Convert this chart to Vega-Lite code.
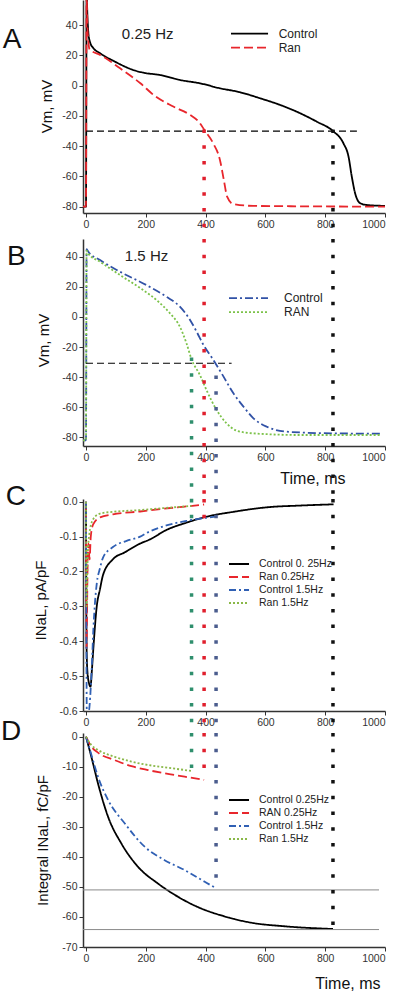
{
  "$schema": "https://vega.github.io/schema/vega-lite/v6.json",
  "background": "white",
  "padding": {"left": 1, "top": 0, "right": 0, "bottom": 0},
  "spacing": 0,
  "bounds": "flush",
  "resolve": {"scale": {"color": "independent", "strokeDash": "independent", "stroke": "independent", "x": "independent", "y": "independent"}},
  "config": {
    "font": "Liberation Sans",
    "view": {"stroke": null},
    "axis": {"grid": false, "domainColor": "#333333", "domainWidth": 1.5, "tickColor": "#333333", "tickSize": 4, "labelFontSize": 10.5, "labelColor": "#333333", "labelPadding": 2, "labelOverlap": false, "titleFontWeight": "normal", "titleFontSize": 15, "titleColor": "#111111", "labelFont": "Liberation Sans", "titleFont": "Liberation Sans"},
    "legend": {"labelFont": "Liberation Sans", "labelColor": "#222222", "padding": 0, "rowPadding": 0, "symbolStrokeWidth": 1.8}
  },
  "vconcat": [
    {
      "width": 302,
      "height": 213,
      "layer": [
        {
          "data": {"values": [
            {"s": "Control", "t": -10, "v": -80}, {"s": "Control", "t": 0, "v": -80}, {"s": "Control", "t": 2, "v": 60}, {"s": "Control", "t": 5, "v": 45}, {"s": "Control", "t": 8, "v": 34.7}, {"s": "Control", "t": 14, "v": 28.5}, {"s": "Control", "t": 25, "v": 24.8}, {"s": "Control", "t": 47, "v": 21.5}, {"s": "Control", "t": 97, "v": 15.9}, {"s": "Control", "t": 158, "v": 10.4}, {"s": "Control", "t": 192, "v": 8.6}, {"s": "Control", "t": 247, "v": 7.1}, {"s": "Control", "t": 314, "v": 3.8}, {"s": "Control", "t": 381, "v": 1.6}, {"s": "Control", "t": 448, "v": -1.7}, {"s": "Control", "t": 515, "v": -4.3}, {"s": "Control", "t": 582, "v": -8.3}, {"s": "Control", "t": 649, "v": -12.7}, {"s": "Control", "t": 716, "v": -18.2}, {"s": "Control", "t": 772, "v": -23.8}, {"s": "Control", "t": 826, "v": -30}, {"s": "Control", "t": 861, "v": -38.1}, {"s": "Control", "t": 878, "v": -46.9}, {"s": "Control", "t": 889, "v": -60.2}, {"s": "Control", "t": 900, "v": -71.1}, {"s": "Control", "t": 917, "v": -77.7}, {"s": "Control", "t": 939, "v": -78.9}, {"s": "Control", "t": 1000, "v": -79.5},
            {"s": "Ran", "t": -10, "v": -80}, {"s": "Ran", "t": 0, "v": -80}, {"s": "Ran", "t": 2, "v": 60}, {"s": "Ran", "t": 5, "v": 38}, {"s": "Ran", "t": 8, "v": 29}, {"s": "Ran", "t": 12, "v": 24}, {"s": "Ran", "t": 17, "v": 23.2}, {"s": "Ran", "t": 47, "v": 20.4}, {"s": "Ran", "t": 114, "v": 11.5}, {"s": "Ran", "t": 182, "v": 1.6}, {"s": "Ran", "t": 226, "v": -6.1}, {"s": "Ran", "t": 292, "v": -13.8}, {"s": "Ran", "t": 348, "v": -19.3}, {"s": "Ran", "t": 381, "v": -24.8}, {"s": "Ran", "t": 395, "v": -29}, {"s": "Ran", "t": 425, "v": -38}, {"s": "Ran", "t": 448, "v": -49.1}, {"s": "Ran", "t": 461, "v": -62.3}, {"s": "Ran", "t": 472, "v": -73.4}, {"s": "Ran", "t": 492, "v": -78.2}, {"s": "Ran", "t": 559, "v": -79.5}, {"s": "Ran", "t": 1000, "v": -80}
          ]},
          "mark": {"type": "line", "clip": true, "strokeWidth": 1.8, "interpolate": "monotone"},
          "encoding": {
            "x": {"field": "t", "type": "quantitative", "scale": {"domain": [-10, 1000], "nice": false, "zero": false}, "axis": {"values": [0, 200, 400, 600, 800, 1000], "tickCount": 20, "format": "d", "title": null, "labelOverlap": false}},
            "y": {"field": "v", "type": "quantitative", "scale": {"domain": [-84.2, 56.7], "nice": false, "zero": false}, "axis": {"values": [-80, -60, -40, -20, 0, 20, 40], "tickCount": 20, "labelOverlap": false, "title": "Vm, mV", "titleX": -37, "titleY": 106, "titleBaseline": "middle", "labelExpr": "replace(datum.label, '−', '-')"}},
            "color": {"field": "s", "type": "nominal", "scale": {"domain": ["Control", "Ran"], "range": ["#000000", "#e8262c"]}, "legend": {"title": null, "orient": "none", "legendX": 147, "legendY": 26.2, "symbolType": "M-1,0H4.7", "symbolSize": 169, "labelFontSize": 12, "labelOffset": 33.7}},
            "strokeDash": {"field": "s", "type": "nominal", "scale": {"domain": ["Control", "Ran"], "range": [[1, 0], [9, 4]]}, "legend": {"title": null}}
          }
        },
        {
          "data": {"values": [{"t": 0, "t2": 906, "v": -30}]},
          "mark": {"type": "rule", "color": "#000000", "strokeWidth": 1.2, "strokeDash": [7, 4]},
          "encoding": {"x": {"field": "t", "type": "quantitative"}, "x2": {"field": "t2"}, "y": {"field": "v", "type": "quantitative"}}
        },
        {
          "data": {"values": [{"label": "0.25 Hz"}]},
          "mark": {"type": "text", "align": "left", "baseline": "middle", "fontSize": 15, "color": "#222222"},
          "encoding": {"x": {"datum": 120, "type": "quantitative"}, "y": {"datum": 34.2, "type": "quantitative"}, "text": {"field": "label"}}
        },
        {
          "data": {"values": [{"label": "A"}]},
          "mark": {"type": "text", "align": "left", "baseline": "middle", "fontSize": 28, "color": "#111111"},
          "encoding": {"x": {"datum": -278, "type": "quantitative"}, "y": {"datum": 30.3, "type": "quantitative"}, "text": {"field": "label"}}
        },
        {
          "data": {"values": [
            {"run": "Control 0.25Hz", "t": 826, "v": -29, "v2": -101.4},
            {"run": "Ran 0.25Hz", "t": 395, "v": -29, "v2": -101.4}
          ]},
          "mark": {"type": "rule", "strokeWidth": 3.5, "strokeDash": [3.5, 12.2]},
          "encoding": {"x": {"field": "t", "type": "quantitative"}, "y": {"field": "v", "type": "quantitative"}, "y2": {"field": "v2"}, "stroke": {"field": "run", "type": "nominal", "scale": {"domain": ["Control 0.25Hz", "Ran 0.25Hz", "Control 1.5Hz", "Ran 1.5Hz"], "range": ["#111111", "#e01f2d", "#4b5d8e", "#2f8f6d"]}, "legend": null}}
        }
      ]
    },
    {"width": 302, "height": 26, "data": {"values": [{}]}, "mark": {"type": "text", "opacity": 0}, "encoding": {"text": {"value": ""}}},
    {
      "width": 302,
      "height": 207,
      "layer": [
        {
          "data": {"values": [
            {"s": "Control", "t": -10, "v": -82}, {"s": "Control", "t": 0, "v": -82}, {"s": "Control", "t": 2, "v": 45}, {"s": "Control", "t": 5, "v": 44.2}, {"s": "Control", "t": 8, "v": 43.3}, {"s": "Control", "t": 47, "v": 37.8}, {"s": "Control", "t": 114, "v": 30}, {"s": "Control", "t": 202, "v": 21.2}, {"s": "Control", "t": 269, "v": 13.4}, {"s": "Control", "t": 314, "v": 6.8}, {"s": "Control", "t": 348, "v": -2}, {"s": "Control", "t": 370, "v": -9.8}, {"s": "Control", "t": 393, "v": -18.7}, {"s": "Control", "t": 426, "v": -28.6}, {"s": "Control", "t": 460, "v": -39.7}, {"s": "Control", "t": 493, "v": -50.8}, {"s": "Control", "t": 527, "v": -59.7}, {"s": "Control", "t": 560, "v": -67.4}, {"s": "Control", "t": 605, "v": -73}, {"s": "Control", "t": 672, "v": -76.3}, {"s": "Control", "t": 828, "v": -77.4}, {"s": "Control", "t": 983, "v": -77.6},
            {"s": "RAN", "t": -10, "v": -82}, {"s": "RAN", "t": 0, "v": -82}, {"s": "RAN", "t": 2, "v": 44}, {"s": "RAN", "t": 5, "v": 43}, {"s": "RAN", "t": 8, "v": 42}, {"s": "RAN", "t": 47, "v": 36.7}, {"s": "RAN", "t": 114, "v": 27.8}, {"s": "RAN", "t": 191, "v": 17.9}, {"s": "RAN", "t": 236, "v": 11.2}, {"s": "RAN", "t": 281, "v": 2.4}, {"s": "RAN", "t": 314, "v": -6.5}, {"s": "RAN", "t": 336, "v": -17.5}, {"s": "RAN", "t": 353, "v": -28.2}, {"s": "RAN", "t": 381, "v": -38.6}, {"s": "RAN", "t": 403, "v": -48.6}, {"s": "RAN", "t": 437, "v": -61.9}, {"s": "RAN", "t": 470, "v": -70.7}, {"s": "RAN", "t": 504, "v": -75.6}, {"s": "RAN", "t": 560, "v": -77.4}, {"s": "RAN", "t": 716, "v": -78.5}, {"s": "RAN", "t": 983, "v": -78.5}
          ]},
          "mark": {"type": "line", "clip": true, "strokeWidth": 1.8, "interpolate": "monotone"},
          "encoding": {
            "x": {"field": "t", "type": "quantitative", "scale": {"domain": [-10, 1000], "nice": false, "zero": false}, "axis": {"values": [0, 200, 400, 600, 800, 1000], "tickCount": 20, "format": "d", "labelOverlap": false, "title": "Time, ms", "titleFontSize": 16, "titleX": 262, "titleY": 37, "titleAlign": "right", "titleBaseline": "alphabetic"}},
            "y": {"field": "v", "type": "quantitative", "scale": {"domain": [-85.8, 51.8], "nice": false, "zero": false}, "axis": {"values": [-80, -60, -40, -20, 0, 20, 40], "tickCount": 20, "labelOverlap": false, "title": "Vm, mV", "titleX": -40, "titleY": 101, "titleBaseline": "middle", "labelExpr": "replace(datum.label, '−', '-')"}},
            "color": {"field": "s", "type": "nominal", "scale": {"domain": ["Control", "RAN"], "range": ["#3152a6", "#7cc24a"]}, "legend": {"title": null, "orient": "none", "legendX": 145, "legendY": 51.6, "symbolType": "M-1,0H5", "symbolSize": 169, "labelFontSize": 12, "labelOffset": 41}},
            "strokeDash": {"field": "s", "type": "nominal", "scale": {"domain": ["Control", "RAN"], "range": [[8, 3, 2, 3], [2, 2]]}, "legend": {"title": null}}
          }
        },
        {
          "data": {"values": [{"t": 0, "t2": 487, "v": -30.8}]},
          "mark": {"type": "rule", "color": "#000000", "strokeWidth": 1.2, "strokeDash": [7, 4]},
          "encoding": {"x": {"field": "t", "type": "quantitative"}, "x2": {"field": "t2"}, "y": {"field": "v", "type": "quantitative"}}
        },
        {
          "data": {"values": [{"label": "1.5 Hz"}]},
          "mark": {"type": "text", "align": "left", "baseline": "middle", "fontSize": 15, "color": "#222222"},
          "encoding": {"x": {"datum": 130, "type": "quantitative"}, "y": {"datum": 40.5, "type": "quantitative"}, "text": {"field": "label"}}
        },
        {
          "data": {"values": [{"label": "B"}]},
          "mark": {"type": "text", "align": "left", "baseline": "middle", "fontSize": 28, "color": "#111111"},
          "encoding": {"x": {"datum": -264, "type": "quantitative"}, "y": {"datum": 39.8, "type": "quantitative"}, "text": {"field": "label"}}
        },
        {
          "data": {"values": [
            {"run": "Control 0.25Hz", "t": 826, "v": 51.8, "v2": -121},
            {"run": "Ran 0.25Hz", "t": 395, "v": 51.8, "v2": -121},
            {"run": "Control 1.5Hz", "t": 435, "v": -39, "v2": -121},
            {"run": "Ran 1.5Hz", "t": 353, "v": -27, "v2": -121}
          ]},
          "mark": {"type": "rule", "strokeWidth": 3.5, "strokeDash": [3.5, 12.2]},
          "encoding": {"x": {"field": "t", "type": "quantitative"}, "y": {"field": "v", "type": "quantitative"}, "y2": {"field": "v2"}, "stroke": {"field": "run", "type": "nominal", "scale": {"domain": ["Control 0.25Hz", "Ran 0.25Hz", "Control 1.5Hz", "Ran 1.5Hz"], "range": ["#111111", "#e01f2d", "#4b5d8e", "#2f8f6d"]}, "legend": null}}
        }
      ]
    },
    {"width": 302, "height": 53, "data": {"values": [{}]}, "mark": {"type": "text", "opacity": 0}, "encoding": {"text": {"value": ""}}},
    {
      "width": 302,
      "height": 212,
      "layer": [
        {
          "data": {"values": [
            {"s": "Control 0. 25Hz", "t": 0, "v": 0}, {"s": "Control 0. 25Hz", "t": 2, "v": -0.42}, {"s": "Control 0. 25Hz", "t": 5, "v": -0.49}, {"s": "Control 0. 25Hz", "t": 10, "v": -0.52}, {"s": "Control 0. 25Hz", "t": 15, "v": -0.53}, {"s": "Control 0. 25Hz", "t": 20, "v": -0.48}, {"s": "Control 0. 25Hz", "t": 25, "v": -0.416}, {"s": "Control 0. 25Hz", "t": 36, "v": -0.3}, {"s": "Control 0. 25Hz", "t": 47, "v": -0.25}, {"s": "Control 0. 25Hz", "t": 57, "v": -0.21}, {"s": "Control 0. 25Hz", "t": 90, "v": -0.165}, {"s": "Control 0. 25Hz", "t": 130, "v": -0.145}, {"s": "Control 0. 25Hz", "t": 181, "v": -0.12}, {"s": "Control 0. 25Hz", "t": 214, "v": -0.108}, {"s": "Control 0. 25Hz", "t": 269, "v": -0.081}, {"s": "Control 0. 25Hz", "t": 336, "v": -0.06}, {"s": "Control 0. 25Hz", "t": 403, "v": -0.043}, {"s": "Control 0. 25Hz", "t": 493, "v": -0.029}, {"s": "Control 0. 25Hz", "t": 605, "v": -0.016}, {"s": "Control 0. 25Hz", "t": 716, "v": -0.011}, {"s": "Control 0. 25Hz", "t": 828, "v": -0.0075},
            {"s": "Ran 0.25Hz", "t": 0, "v": 0}, {"s": "Ran 0.25Hz", "t": 2, "v": -0.42}, {"s": "Ran 0.25Hz", "t": 5, "v": -0.2}, {"s": "Ran 0.25Hz", "t": 8, "v": -0.12}, {"s": "Ran 0.25Hz", "t": 12, "v": -0.165}, {"s": "Ran 0.25Hz", "t": 16, "v": -0.1}, {"s": "Ran 0.25Hz", "t": 24, "v": -0.065}, {"s": "Ran 0.25Hz", "t": 47, "v": -0.045}, {"s": "Ran 0.25Hz", "t": 90, "v": -0.036}, {"s": "Ran 0.25Hz", "t": 181, "v": -0.028}, {"s": "Ran 0.25Hz", "t": 250, "v": -0.021}, {"s": "Ran 0.25Hz", "t": 330, "v": -0.014}, {"s": "Ran 0.25Hz", "t": 395, "v": -0.008},
            {"s": "Control 1.5Hz", "t": 0, "v": 0}, {"s": "Control 1.5Hz", "t": 3, "v": -0.62}, {"s": "Control 1.5Hz", "t": 10, "v": -0.6}, {"s": "Control 1.5Hz", "t": 18, "v": -0.5}, {"s": "Control 1.5Hz", "t": 25, "v": -0.36}, {"s": "Control 1.5Hz", "t": 30, "v": -0.29}, {"s": "Control 1.5Hz", "t": 36, "v": -0.235}, {"s": "Control 1.5Hz", "t": 47, "v": -0.19}, {"s": "Control 1.5Hz", "t": 57, "v": -0.16}, {"s": "Control 1.5Hz", "t": 90, "v": -0.13}, {"s": "Control 1.5Hz", "t": 136, "v": -0.112}, {"s": "Control 1.5Hz", "t": 181, "v": -0.1}, {"s": "Control 1.5Hz", "t": 202, "v": -0.09}, {"s": "Control 1.5Hz", "t": 269, "v": -0.068}, {"s": "Control 1.5Hz", "t": 336, "v": -0.055}, {"s": "Control 1.5Hz", "t": 403, "v": -0.046}, {"s": "Control 1.5Hz", "t": 432, "v": -0.043},
            {"s": "Ran 1.5Hz", "t": 0, "v": 0}, {"s": "Ran 1.5Hz", "t": 2, "v": -0.3}, {"s": "Ran 1.5Hz", "t": 5, "v": -0.18}, {"s": "Ran 1.5Hz", "t": 10, "v": -0.1}, {"s": "Ran 1.5Hz", "t": 24, "v": -0.05}, {"s": "Ran 1.5Hz", "t": 47, "v": -0.034}, {"s": "Ran 1.5Hz", "t": 90, "v": -0.029}, {"s": "Ran 1.5Hz", "t": 181, "v": -0.024}, {"s": "Ran 1.5Hz", "t": 250, "v": -0.019}, {"s": "Ran 1.5Hz", "t": 353, "v": -0.012}
          ]},
          "mark": {"type": "line", "clip": true, "strokeWidth": 1.8, "interpolate": "monotone"},
          "encoding": {
            "x": {"field": "t", "type": "quantitative", "scale": {"domain": [-10, 1000], "nice": false, "zero": false}, "axis": {"values": [0, 200, 400, 600, 800, 1000], "tickCount": 20, "format": "d", "labelOverlap": false, "title": null}},
            "y": {"field": "v", "type": "quantitative", "scale": {"domain": [-0.6, 0.0078], "nice": false, "zero": false}, "axis": {"values": [-0.6, -0.5, -0.4, -0.3, -0.2, -0.1, 0], "tickCount": 20, "labelOverlap": false, "format": ".1f", "title": "INaL, pA/pF", "titleX": -43, "titleY": 101, "titleBaseline": "middle", "labelExpr": "replace(datum.label, '−', '-')"}},
            "color": {"field": "s", "type": "nominal", "scale": {"domain": ["Control 0. 25Hz", "Ran 0.25Hz", "Control 1.5Hz", "Ran 1.5Hz"], "range": ["#000000", "#e8262c", "#3060b4", "#8ab848"]}, "legend": {"title": null, "orient": "none", "legendX": 145, "legendY": 57.5, "symbolType": "M-1,0H2.08", "symbolSize": 169, "labelFontSize": 10.5, "labelOffset": 16}},
            "strokeDash": {"field": "s", "type": "nominal", "scale": {"domain": ["Control 0. 25Hz", "Ran 0.25Hz", "Control 1.5Hz", "Ran 1.5Hz"], "range": [[1, 0], [9, 4], [7, 3, 2, 3], [2, 2]]}, "legend": {"title": null}}
          }
        },
        {
          "data": {"values": [{"label": "C"}]},
          "mark": {"type": "text", "align": "left", "baseline": "middle", "fontSize": 28, "color": "#111111"},
          "encoding": {"x": {"datum": -268, "type": "quantitative"}, "y": {"datum": 0.0135, "type": "quantitative"}, "text": {"field": "label"}}
        },
        {
          "data": {"values": [
            {"run": "Control 0.25Hz", "t": 826, "v": 0.0078, "v2": -0.663},
            {"run": "Ran 0.25Hz", "t": 395, "v": 0.0078, "v2": -0.663},
            {"run": "Control 1.5Hz", "t": 435, "v": 0.0078, "v2": -0.663},
            {"run": "Ran 1.5Hz", "t": 353, "v": 0.0078, "v2": -0.663}
          ]},
          "mark": {"type": "rule", "strokeWidth": 3.5, "strokeDash": [3.5, 12.2]},
          "encoding": {"x": {"field": "t", "type": "quantitative"}, "y": {"field": "v", "type": "quantitative"}, "y2": {"field": "v2"}, "stroke": {"field": "run", "type": "nominal", "scale": {"domain": ["Control 0.25Hz", "Ran 0.25Hz", "Control 1.5Hz", "Ran 1.5Hz"], "range": ["#111111", "#e01f2d", "#4b5d8e", "#2f8f6d"]}, "legend": null}}
        }
      ]
    },
    {"width": 302, "height": 22, "data": {"values": [{}]}, "mark": {"type": "text", "opacity": 0}, "encoding": {"text": {"value": ""}}},
    {
      "width": 302,
      "height": 214,
      "layer": [
        {
          "data": {"values": [
            {"s": "Control 0.25Hz", "t": 0, "v": 0}, {"s": "Control 0.25Hz", "t": 18, "v": -6.7}, {"s": "Control 0.25Hz", "t": 40, "v": -15.5}, {"s": "Control 0.25Hz", "t": 74, "v": -26.7}, {"s": "Control 0.25Hz", "t": 118, "v": -35.5}, {"s": "Control 0.25Hz", "t": 174, "v": -43.3}, {"s": "Control 0.25Hz", "t": 241, "v": -48.9}, {"s": "Control 0.25Hz", "t": 308, "v": -53.3}, {"s": "Control 0.25Hz", "t": 374, "v": -56.7}, {"s": "Control 0.25Hz", "t": 463, "v": -59.8}, {"s": "Control 0.25Hz", "t": 552, "v": -61.9}, {"s": "Control 0.25Hz", "t": 663, "v": -63.1}, {"s": "Control 0.25Hz", "t": 826, "v": -64},
            {"s": "RAN 0.25Hz", "t": 0, "v": 0}, {"s": "RAN 0.25Hz", "t": 18, "v": -3.3}, {"s": "RAN 0.25Hz", "t": 40, "v": -5.3}, {"s": "RAN 0.25Hz", "t": 96, "v": -7.8}, {"s": "RAN 0.25Hz", "t": 152, "v": -9.8}, {"s": "RAN 0.25Hz", "t": 207, "v": -11.1}, {"s": "RAN 0.25Hz", "t": 263, "v": -12.2}, {"s": "RAN 0.25Hz", "t": 330, "v": -13.3}, {"s": "RAN 0.25Hz", "t": 395, "v": -14.4},
            {"s": "Control 1.5Hz", "t": 0, "v": 0}, {"s": "Control 1.5Hz", "t": 18, "v": -6}, {"s": "Control 1.5Hz", "t": 40, "v": -13.3}, {"s": "Control 1.5Hz", "t": 74, "v": -21.1}, {"s": "Control 1.5Hz", "t": 130, "v": -28.9}, {"s": "Control 1.5Hz", "t": 197, "v": -36.7}, {"s": "Control 1.5Hz", "t": 263, "v": -41.1}, {"s": "Control 1.5Hz", "t": 330, "v": -44.4}, {"s": "Control 1.5Hz", "t": 397, "v": -48.3}, {"s": "Control 1.5Hz", "t": 436, "v": -50.5},
            {"s": "Ran 1.5Hz", "t": 0, "v": 0}, {"s": "Ran 1.5Hz", "t": 18, "v": -2.8}, {"s": "Ran 1.5Hz", "t": 40, "v": -4.4}, {"s": "Ran 1.5Hz", "t": 96, "v": -6.7}, {"s": "Ran 1.5Hz", "t": 152, "v": -8.3}, {"s": "Ran 1.5Hz", "t": 207, "v": -9.4}, {"s": "Ran 1.5Hz", "t": 263, "v": -10.2}, {"s": "Ran 1.5Hz", "t": 346, "v": -11.3}, {"s": "Ran 1.5Hz", "t": 353, "v": -11.4}
          ]},
          "mark": {"type": "line", "clip": true, "strokeWidth": 1.8, "interpolate": "monotone"},
          "encoding": {
            "x": {"field": "t", "type": "quantitative", "scale": {"domain": [-10, 1000], "nice": false, "zero": false}, "axis": {"values": [0, 200, 400, 600, 800, 1000], "tickCount": 20, "format": "d", "labelOverlap": false, "title": "Time, ms", "titleFontSize": 16, "titleX": 297, "titleY": 41, "titleAlign": "right", "titleBaseline": "alphabetic"}},
            "y": {"field": "v", "type": "quantitative", "scale": {"domain": [-70, 1.23], "nice": false, "zero": false}, "axis": {"values": [-70, -60, -50, -40, -30, -20, -10, 0], "tickCount": 20, "labelOverlap": false, "title": "Integral INaL, fC/pF", "titleX": -41, "titleY": 107, "titleBaseline": "middle", "labelExpr": "replace(datum.label, '−', '-')"}},
            "color": {"field": "s", "type": "nominal", "scale": {"domain": ["Control 0.25Hz", "RAN 0.25Hz", "Control 1.5Hz", "Ran 1.5Hz"], "range": ["#000000", "#e8262c", "#3060b4", "#8ab848"]}, "legend": {"title": null, "orient": "none", "legendX": 145, "legendY": 59.5, "symbolType": "M-1,0H2.08", "symbolSize": 169, "labelFontSize": 10.5, "labelOffset": 16}},
            "strokeDash": {"field": "s", "type": "nominal", "scale": {"domain": ["Control 0.25Hz", "RAN 0.25Hz", "Control 1.5Hz", "Ran 1.5Hz"], "range": [[1, 0], [9, 4], [7, 3, 2, 3], [2, 2]]}, "legend": {"title": null}}
          }
        },
        {
          "data": {"values": [{"t": -10, "t2": 980, "v": -51}, {"t": -10, "t2": 980, "v": -64.2}]},
          "mark": {"type": "rule", "color": "#8a8a8a", "strokeWidth": 1},
          "encoding": {"x": {"field": "t", "type": "quantitative"}, "x2": {"field": "t2"}, "y": {"field": "v", "type": "quantitative"}}
        },
        {
          "data": {"values": [{"label": "D"}]},
          "mark": {"type": "text", "align": "left", "baseline": "middle", "fontSize": 28, "color": "#111111"},
          "encoding": {"x": {"datum": -284, "type": "quantitative"}, "y": {"datum": 1.56, "type": "quantitative"}, "text": {"field": "label"}}
        },
        {
          "data": {"values": [
            {"run": "Control 0.25Hz", "t": 826, "v": 1.23, "v2": -64},
            {"run": "Ran 0.25Hz", "t": 395, "v": 1.23, "v2": -13},
            {"run": "Control 1.5Hz", "t": 435, "v": 1.23, "v2": -49},
            {"run": "Ran 1.5Hz", "t": 353, "v": 1.23, "v2": -10.5}
          ]},
          "mark": {"type": "rule", "strokeWidth": 3.5, "strokeDash": [3.5, 12.2]},
          "encoding": {"x": {"field": "t", "type": "quantitative"}, "y": {"field": "v", "type": "quantitative"}, "y2": {"field": "v2"}, "stroke": {"field": "run", "type": "nominal", "scale": {"domain": ["Control 0.25Hz", "Ran 0.25Hz", "Control 1.5Hz", "Ran 1.5Hz"], "range": ["#111111", "#e01f2d", "#4b5d8e", "#2f8f6d"]}, "legend": null}}
        }
      ]
    }
  ]
}
